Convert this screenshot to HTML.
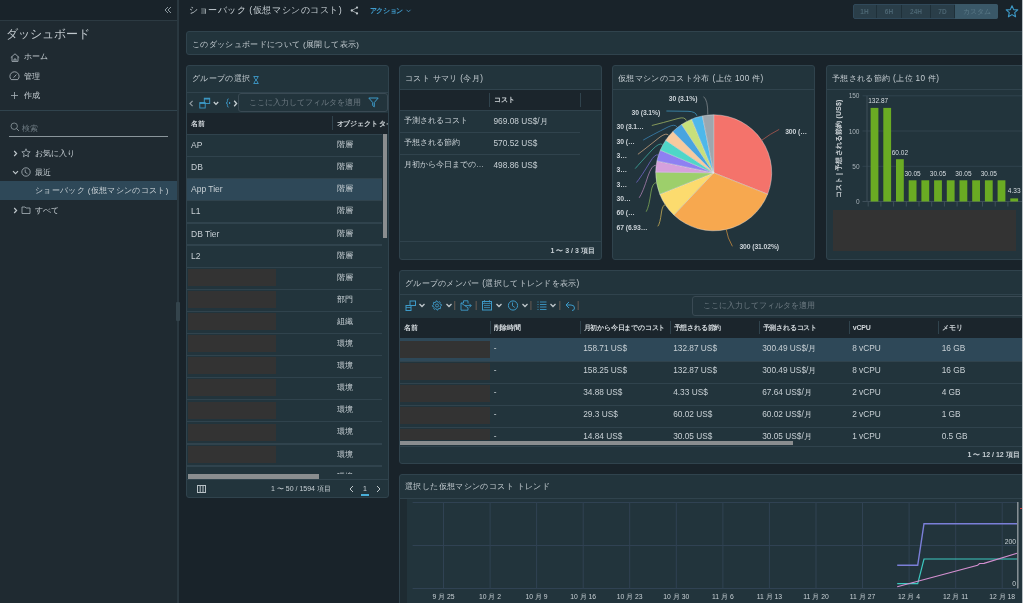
<!DOCTYPE html>
<html><head><meta charset="utf-8">
<style>
*{box-sizing:border-box;margin:0;padding:0}
html,body{width:1023px;height:603px;overflow:hidden;background:#19232a;font-family:"Liberation Sans",sans-serif;color:#c8d0d5}
.a{position:absolute}
.t{position:absolute;white-space:nowrap;line-height:1}
svg{position:absolute;overflow:visible}
#side{left:0;top:0;width:178px;height:603px;background:#1f2a31}
#sidetop{left:0;top:0;width:177px;height:21px;background:#19232a;border-bottom:1px solid #2c3a42}
#sideline{left:177px;top:0;width:2px;height:603px;background:#2a3840}
.panel{position:absolute;background:#22343c;border:1px solid #30434d;border-radius:3px;overflow:hidden}
.ph{position:absolute;left:0;top:0;right:0;height:24px;border-bottom:1px solid #30434d}
.ptitle{position:absolute;left:5px;top:9px;font-size:8.5px;color:#c4ccd1;white-space:nowrap;line-height:1}
.red{position:absolute;background:#333333}
.th{position:absolute;background:#1b252c}
.hd{position:absolute;font-size:7px;font-weight:bold;letter-spacing:-0.2px;color:#d0d6da;white-space:nowrap;line-height:1}
.cd{position:absolute;width:1px;background:#30434d}
.rb{position:absolute;height:1px;background:#30434d}
.c{position:absolute;font-size:8px;color:#c8d0d5;white-space:nowrap;line-height:1}
.sep{position:absolute;width:1px;height:10px;background:#5a5856}
</style></head><body><div id="root" style="position:absolute;left:0;top:0;width:1023px;height:603px;overflow:hidden;will-change:transform">
<div id="side" class="a"></div>
<div id="sidetop" class="a"></div>
<div id="sideline" class="a"></div>
<div class="a" style="left:176px;top:302px;width:4px;height:19px;background:#34444c;border-radius:1px"></div>

<!-- sidebar -->
<svg style="left:164px;top:6px" width="8" height="8" viewBox="0 0 8 8"><path d="M4 1 L1 4 L4 7 M7 1 L4 4 L7 7" fill="none" stroke="#9aa6ad" stroke-width="0.9"/></svg>
<div class="t" style="left:5.5px;top:28px;font-size:12px;color:#c0c8cd">ダッシュボード</div>
<svg style="left:9.5px;top:52.5px" width="10" height="9" viewBox="0 0 10 9"><path d="M0.8 4.6 L5 0.8 L9.2 4.6 M2 3.6 V8.4 H8 V3.6 M4 8.4 V6 H6 V8.4" fill="none" stroke="#aab4ba" stroke-width="0.85" stroke-linejoin="round"/></svg>
<div class="t" style="left:24px;top:53px;font-size:8px">ホーム</div>
<svg style="left:9px;top:71px" width="11" height="10" viewBox="0 0 11 10"><path d="M2.2 8.6 A4.6 4.6 0 1 1 8.8 8.6 Z M4.6 6.6 L7.4 3.6" fill="none" stroke="#aab4ba" stroke-width="0.85" stroke-linejoin="round"/></svg>
<div class="t" style="left:24px;top:72.5px;font-size:8px">管理</div>
<svg style="left:10px;top:90.5px" width="9" height="9" viewBox="0 0 9 9"><path d="M4.5 1 V8 M1 4.5 H8" fill="none" stroke="#aab4ba" stroke-width="0.8"/></svg>
<div class="t" style="left:24px;top:91.5px;font-size:8px">作成</div>
<div class="a" style="left:0;top:110px;width:177px;height:1px;background:#30434d"></div>
<svg style="left:10px;top:122px" width="10" height="10" viewBox="0 0 10 10"><circle cx="4.2" cy="4.2" r="3.2" fill="none" stroke="#8d989e" stroke-width="0.8"/><path d="M6.5 6.5 L9 9" stroke="#8d989e" stroke-width="0.9"/></svg>
<div class="t" style="left:22px;top:124.5px;font-size:8px;color:#6f7c84">検索</div>
<div class="a" style="left:9px;top:136px;width:159px;height:1px;background:#8a959b"></div>
<svg style="left:12.5px;top:150px" width="5" height="7" viewBox="0 0 5 7"><path d="M1.2 1 L3.6 3.5 L1.2 6" fill="none" stroke="#c0c8cc" stroke-width="1.15"/></svg>
<svg style="left:21px;top:148px" width="10" height="10" viewBox="0 0 10 10"><path d="M5 0.8 L6.2 3.6 L9.2 3.8 L6.9 5.8 L7.6 8.8 L5 7.2 L2.4 8.8 L3.1 5.8 L0.8 3.8 L3.8 3.6 Z" fill="none" stroke="#aab4ba" stroke-width="0.8"/></svg>
<div class="t" style="left:35px;top:149.5px;font-size:8px">お気に入り</div>
<svg style="left:11.5px;top:170px" width="7" height="5" viewBox="0 0 7 5"><path d="M1 1.2 L3.5 3.6 L6 1.2" fill="none" stroke="#c0c8cc" stroke-width="1.15"/></svg>
<svg style="left:21px;top:167px" width="10" height="10" viewBox="0 0 10 10"><circle cx="5" cy="5" r="4.2" fill="none" stroke="#aab4ba" stroke-width="0.8"/><path d="M4.2 2.5 V5.3 L6.5 6.8" fill="none" stroke="#aab4ba" stroke-width="0.8"/></svg>
<div class="t" style="left:35px;top:168.5px;font-size:8px">最近</div>
<div class="a" style="left:0;top:181px;width:177px;height:19px;background:#2e4858"></div>
<div class="t" style="left:35px;top:187px;font-size:8px;letter-spacing:0.35px;color:#c8d0d5">ショーバック (仮想マシンのコスト)</div>
<svg style="left:12.5px;top:207px" width="5" height="7" viewBox="0 0 5 7"><path d="M1.2 1 L3.6 3.5 L1.2 6" fill="none" stroke="#c0c8cc" stroke-width="1.15"/></svg>
<svg style="left:21px;top:205px" width="10" height="10" viewBox="0 0 10 10"><path d="M1 2 H4 L5 3 H9 V8.5 H1 Z" fill="none" stroke="#aab4ba" stroke-width="0.8"/></svg>
<div class="t" style="left:35px;top:207px;font-size:8px">すべて</div>

<!-- main header -->
<div class="t" style="left:189px;top:5.5px;font-size:9px;letter-spacing:0.55px;color:#c8d0d5">ショーバック (仮想マシンのコスト)</div>
<svg style="left:350px;top:6px" width="9" height="9" viewBox="0 0 9 9"><circle cx="7" cy="1.6" r="1.15" fill="#c0c8cc"/><circle cx="1.8" cy="4.5" r="1.15" fill="#c0c8cc"/><circle cx="7" cy="7.4" r="1.15" fill="#c0c8cc"/><path d="M7 1.6 L1.8 4.5 L7 7.4" fill="none" stroke="#c0c8cc" stroke-width="0.7"/></svg>
<div class="t" style="left:369.5px;top:7px;font-size:7px;letter-spacing:-0.3px;font-weight:bold;color:#3f9bcb">アクション</div>
<svg style="left:406px;top:8.5px" width="5" height="4" viewBox="0 0 5 4"><path d="M0.5 0.8 L2.5 2.8 L4.5 0.8" fill="none" stroke="#4a9fd0" stroke-width="0.8"/></svg>

<div class="a" style="left:853px;top:4px;width:145px;height:15px;background:#2a3e49;border:1px solid #30495a;border-radius:2px"></div>
<div class="a" style="left:955px;top:4px;width:43px;height:15px;background:#3a5868;border-radius:0 2px 2px 0"></div>
<div class="a" style="left:876px;top:5px;width:1px;height:13px;background:#1f3039"></div>
<div class="a" style="left:901px;top:5px;width:1px;height:13px;background:#1f3039"></div>
<div class="a" style="left:930px;top:5px;width:1px;height:13px;background:#1f3039"></div>
<div class="a" style="left:954px;top:5px;width:1px;height:13px;background:#1f3039"></div>
<div class="t" style="left:853px;width:23px;text-align:center;top:8.5px;font-size:6.5px;font-weight:bold;color:#4b6572">1H</div>
<div class="t" style="left:877px;width:24px;text-align:center;top:8.5px;font-size:6.5px;font-weight:bold;color:#4b6572">6H</div>
<div class="t" style="left:902px;width:28px;text-align:center;top:8.5px;font-size:6.5px;font-weight:bold;color:#4b6572">24H</div>
<div class="t" style="left:931px;width:23px;text-align:center;top:8.5px;font-size:6.5px;font-weight:bold;color:#4b6572">7D</div>
<div class="t" style="left:955px;width:43px;text-align:center;top:8px;font-size:7px;color:#5b7a88">カスタム</div>
<svg style="left:1005px;top:5px" width="14" height="13" viewBox="0 0 14 13"><path d="M7 0.8 L8.7 4.6 L12.8 4.9 L9.7 7.6 L10.6 11.8 L7 9.6 L3.4 11.8 L4.3 7.6 L1.2 4.9 L5.3 4.6 Z" fill="none" stroke="#3d9ac8" stroke-width="1.1" stroke-linejoin="round"/></svg>

<div class="panel" style="left:186px;top:31px;width:860px;height:24px"><div class="ptitle" style="top:8.5px;font-size:8px;letter-spacing:0.35px">このダッシュボードについて (展開して表示)</div></div>
<div class="panel" style="left:186px;top:65px;width:203px;height:433px"></div>
<div class="rb" style="left:187px;top:92px;width:201px"></div>
<div class="t" style="left:192px;top:75.1px;font-size:8.2px;letter-spacing:0.35px;color:#c4ccd1">グループの選択</div>
<svg style="left:253px;top:76px" width="6" height="8" viewBox="0 0 6 8"><path d="M0.5 0.5 H5.5 M0.5 7.5 H5.5 M1 0.5 C1 3 5 5 5 7.5 M5 0.5 C5 3 1 5 1 7.5" fill="none" stroke="#3d9ac8" stroke-width="0.9"/></svg>
<svg style="left:188.5px;top:99.5px" width="5" height="7" viewBox="0 0 5 7"><path d="M3.6 0.8 L1 3.5 L3.6 6.2" fill="none" stroke="#8d989e" stroke-width="1.2"/></svg>
<svg style="left:199px;top:97px" width="12" height="12" viewBox="0 0 12 12"><rect x="5.3" y="1.2" width="5.4" height="5.3" fill="none" stroke="#3d9ac8" stroke-width="0.9"/><path d="M5.3 1.8 H10.7" stroke="#3d9ac8" stroke-width="1.4"/><rect x="0.8" y="5.6" width="5.4" height="5.4" fill="none" stroke="#3d9ac8" stroke-width="0.9"/><path d="M0.8 6.2 H6.2" stroke="#3d9ac8" stroke-width="1.4"/></svg>
<svg style="left:212.5px;top:101px" width="6" height="5" viewBox="0 0 6 5"><path d="M0.8 1 L3 3.4 L5.2 1" fill="none" stroke="#c8d0d4" stroke-width="1.3"/></svg>
<svg style="left:225px;top:98px" width="7" height="10" viewBox="0 0 7 10"><path d="M3.6 0.9 C2.2 0.9 2.4 2 2.4 3.4 C2.4 4.4 2 4.9 1.1 5 C2 5.1 2.4 5.6 2.4 6.6 C2.4 8 2.2 9.1 3.6 9.1" fill="none" stroke="#3d9ac8" stroke-width="0.95"/><path d="M4.6 4 V6" stroke="#3d9ac8" stroke-width="1.1"/></svg>
<svg style="left:233px;top:99.5px" width="5" height="7" viewBox="0 0 5 7"><path d="M1.2 0.8 L3.6 3.5 L1.2 6.2" fill="none" stroke="#c8d0d4" stroke-width="1.3"/></svg>
<div class="a" style="left:238px;top:93px;width:150px;height:19px;border:1px solid #3a4a54;border-radius:3px;background:#22343c"></div>
<div class="t" style="left:249px;top:98.5px;font-size:8px;color:#6d7a82">ここに入力してフィルタを適用</div>
<svg style="left:368px;top:97px" width="11" height="11" viewBox="0 0 11 11"><path d="M0.8 1 H10.2 L6.3 5.5 V9.8 L4.7 8.6 V5.5 Z" fill="none" stroke="#3d9ac8" stroke-width="1" stroke-linejoin="round"/></svg>
<div class="a" style="left:187px;top:113px;width:201px;height:20.5px;overflow:hidden;background:#1b252c">
<div class="hd" style="left:4px;top:6.5px">名前</div>
<div class="cd" style="left:145px;top:3px;height:14px"></div>
<div class="hd" style="left:149.5px;top:6.5px">オブジェクト タイプ</div></div>
<div class="a" style="left:187px;top:133px;width:201px;height:341.3px;overflow:hidden">
<div class="rb" style="left:0;top:0.9px;width:195px;height:1.3px"></div>
<div class="c" style="left:4px;top:8.1px;font-size:8.5px">AP</div>
<div class="c" style="left:149.5px;top:8.1px;font-size:8px">階層</div>
<div class="rb" style="left:0;top:23.0px;width:195px;height:1.3px"></div>
<div class="c" style="left:4px;top:30.2px;font-size:8.5px">DB</div>
<div class="c" style="left:149.5px;top:30.2px;font-size:8px">階層</div>
<div class="a" style="left:0;top:46.1px;width:195px;height:21.1px;background:#2e4858"></div>
<div class="rb" style="left:0;top:45.1px;width:195px;height:1.3px"></div>
<div class="c" style="left:4px;top:52.3px;font-size:8.5px">App Tier</div>
<div class="c" style="left:149.5px;top:52.3px;font-size:8px">階層</div>
<div class="rb" style="left:0;top:67.2px;width:195px;height:1.3px"></div>
<div class="c" style="left:4px;top:74.4px;font-size:8.5px">L1</div>
<div class="c" style="left:149.5px;top:74.4px;font-size:8px">階層</div>
<div class="rb" style="left:0;top:89.3px;width:195px;height:1.3px"></div>
<div class="c" style="left:4px;top:96.5px;font-size:8.5px">DB Tier</div>
<div class="c" style="left:149.5px;top:96.5px;font-size:8px">階層</div>
<div class="rb" style="left:0;top:111.4px;width:195px;height:1.3px"></div>
<div class="c" style="left:4px;top:118.6px;font-size:8.5px">L2</div>
<div class="c" style="left:149.5px;top:118.6px;font-size:8px">階層</div>
<div class="rb" style="left:0;top:133.5px;width:195px;height:1.3px"></div>
<div class="red" style="left:1px;top:135.9px;width:88px;height:17.1px"></div>
<div class="c" style="left:149.5px;top:140.7px;font-size:8px">階層</div>
<div class="rb" style="left:0;top:155.6px;width:195px;height:1.3px"></div>
<div class="red" style="left:1px;top:158.0px;width:88px;height:17.1px"></div>
<div class="c" style="left:149.5px;top:162.8px;font-size:8px">部門</div>
<div class="rb" style="left:0;top:177.7px;width:195px;height:1.3px"></div>
<div class="red" style="left:1px;top:180.1px;width:88px;height:17.1px"></div>
<div class="c" style="left:149.5px;top:184.9px;font-size:8px">組織</div>
<div class="rb" style="left:0;top:199.8px;width:195px;height:1.3px"></div>
<div class="red" style="left:1px;top:202.2px;width:88px;height:17.1px"></div>
<div class="c" style="left:149.5px;top:207.0px;font-size:8px">環境</div>
<div class="rb" style="left:0;top:221.9px;width:195px;height:1.3px"></div>
<div class="red" style="left:1px;top:224.3px;width:88px;height:17.1px"></div>
<div class="c" style="left:149.5px;top:229.1px;font-size:8px">環境</div>
<div class="rb" style="left:0;top:244.0px;width:195px;height:1.3px"></div>
<div class="red" style="left:1px;top:246.4px;width:88px;height:17.1px"></div>
<div class="c" style="left:149.5px;top:251.2px;font-size:8px">環境</div>
<div class="rb" style="left:0;top:266.1px;width:195px;height:1.3px"></div>
<div class="red" style="left:1px;top:268.5px;width:88px;height:17.1px"></div>
<div class="c" style="left:149.5px;top:273.3px;font-size:8px">環境</div>
<div class="rb" style="left:0;top:288.2px;width:195px;height:1.3px"></div>
<div class="red" style="left:1px;top:290.6px;width:88px;height:17.1px"></div>
<div class="c" style="left:149.5px;top:295.4px;font-size:8px">環境</div>
<div class="rb" style="left:0;top:310.3px;width:195px;height:1.3px"></div>
<div class="red" style="left:1px;top:312.7px;width:88px;height:17.1px"></div>
<div class="c" style="left:149.5px;top:317.5px;font-size:8px">環境</div>
<div class="rb" style="left:0;top:332.4px;width:195px;height:1.3px"></div>
<div class="c" style="left:149.5px;top:339.6px;font-size:8px">環境</div>
<div class="a" style="left:196px;top:1px;width:4px;height:104px;background:#8a8d8f"></div>
</div>
<div class="a" style="left:187.5px;top:474.3px;width:131px;height:4.7px;background:#8a8d8f"></div>
<div class="rb" style="left:187px;top:479px;width:201px"></div>
<svg style="left:197px;top:485px" width="9" height="8" viewBox="0 0 9 8"><rect x="0.5" y="0.5" width="8" height="7" fill="none" stroke="#b8c0c5" stroke-width="1"/><path d="M3.2 0.5 V7.5 M6 0.5 V7.5" stroke="#b8c0c5" stroke-width="1"/></svg>
<div class="t" style="left:271px;top:485px;font-size:7px;color:#c8d0d5">1 〜 50 / 1594 項目</div>
<svg style="left:349px;top:485px" width="5" height="8" viewBox="0 0 5 8"><path d="M4 1 L1 4 L4 7" fill="none" stroke="#c0c8cc" stroke-width="1"/></svg>
<div class="t" style="left:363px;top:485px;font-size:7px;color:#c8d0d5">1</div>
<div class="a" style="left:361px;top:494px;width:8px;height:2px;background:#49afd9"></div>
<svg style="left:376px;top:485px" width="5" height="8" viewBox="0 0 5 8"><path d="M1 1 L4 4 L1 7" fill="none" stroke="#c0c8cc" stroke-width="1"/></svg>
<div class="panel" style="left:399px;top:65px;width:203px;height:195px"></div>
<div class="rb" style="left:400px;top:89px;width:201px"></div>
<div class="t" style="left:405px;top:75.1px;font-size:8.2px;letter-spacing:0.35px;color:#c4ccd1">コスト サマリ (今月)</div>
<div class="th" style="left:400px;top:90px;width:180px;height:20px"></div>
<div class="th" style="left:580px;top:90px;width:21px;height:20px"></div>
<div class="cd" style="left:489px;top:93px;height:14px"></div>
<div class="cd" style="left:579.5px;top:93px;height:14px"></div>
<div class="hd" style="left:494px;top:95.8px">コスト</div>
<div class="rb" style="left:400px;top:110px;width:201px"></div>
<div class="c" style="left:404px;top:116.5px;font-size:8px">予測されるコスト</div>
<div class="c" style="left:493.5px;top:116.5px;font-size:8.3px">969.08 US$/月</div>
<div class="rb" style="left:400px;top:132.2px;width:180px"></div>
<div class="c" style="left:404px;top:138.7px;font-size:8px">予想される節約</div>
<div class="c" style="left:493.5px;top:138.7px;font-size:8.3px">570.52 US$</div>
<div class="rb" style="left:400px;top:154.4px;width:180px"></div>
<div class="c" style="left:404px;top:160.9px;font-size:8px">月初から今日までの…</div>
<div class="c" style="left:493.5px;top:160.9px;font-size:8.3px">498.86 US$</div>
<div class="rb" style="left:400px;top:240.5px;width:201px"></div>
<div class="t" style="left:550.5px;top:247px;font-size:7px;font-weight:bold;color:#c8d0d5">1 〜 3 / 3 項目</div>
<div class="panel" style="left:612px;top:65px;width:203px;height:195px"></div>
<div class="rb" style="left:613px;top:89px;width:201px"></div>
<div class="t" style="left:618px;top:75.1px;font-size:8.2px;letter-spacing:0.35px;color:#c4ccd1">仮想マシンのコスト分布 (上位 100 件)</div>
<svg style="left:0;top:0" width="1023" height="603" viewBox="0 0 1023 603">
<path d="M713.7,172.8 L713.70,114.80 A58,58 0 0 1 767.60,194.23 Z" fill="#f4736b" stroke="#e8ecee" stroke-width="0.5" stroke-opacity="0.8"/>
<path d="M713.7,172.8 L767.60,194.23 A58,58 0 0 1 673.87,214.96 Z" fill="#f7a84f" stroke="#e8ecee" stroke-width="0.5" stroke-opacity="0.8"/>
<path d="M713.7,172.8 L673.87,214.96 A58,58 0 0 1 659.80,194.23 Z" fill="#fcdb6e" stroke="#e8ecee" stroke-width="0.5" stroke-opacity="0.8"/>
<path d="M713.7,172.8 L659.80,194.23 A58,58 0 0 1 655.70,172.14 Z" fill="#9dcf6b" stroke="#e8ecee" stroke-width="0.5" stroke-opacity="0.8"/>
<path d="M713.7,172.8 L655.70,172.14 A58,58 0 0 1 656.93,160.92 Z" fill="#d6a0dc" stroke="#e8ecee" stroke-width="0.5" stroke-opacity="0.8"/>
<path d="M713.7,172.8 L656.93,160.92 A58,58 0 0 1 660.31,150.15 Z" fill="#8e80f2" stroke="#e8ecee" stroke-width="0.5" stroke-opacity="0.8"/>
<path d="M713.7,172.8 L660.31,150.15 A58,58 0 0 1 665.70,140.24 Z" fill="#4fd6c8" stroke="#e8ecee" stroke-width="0.5" stroke-opacity="0.8"/>
<path d="M713.7,172.8 L665.70,140.24 A58,58 0 0 1 672.92,131.56 Z" fill="#f8ca9e" stroke="#e8ecee" stroke-width="0.5" stroke-opacity="0.8"/>
<path d="M713.7,172.8 L672.92,131.56 A58,58 0 0 1 681.68,124.44 Z" fill="#48a4e0" stroke="#e8ecee" stroke-width="0.5" stroke-opacity="0.8"/>
<path d="M713.7,172.8 L681.68,124.44 A58,58 0 0 1 691.66,119.15 Z" fill="#c7e07b" stroke="#e8ecee" stroke-width="0.5" stroke-opacity="0.8"/>
<path d="M713.7,172.8 L691.66,119.15 A58,58 0 0 1 702.47,115.90 Z" fill="#4eb8ea" stroke="#e8ecee" stroke-width="0.5" stroke-opacity="0.8"/>
<path d="M713.7,172.8 L702.47,115.90 A58,58 0 0 1 713.70,114.80 Z" fill="#9ea7ae" stroke="#e8ecee" stroke-width="0.5" stroke-opacity="0.8"/>
<path d="M761.7,140.3 Q770,134 779.2,129.4" fill="none" stroke="#b0584f" stroke-width="0.8"/>
<path d="M726.2,229.4 Q727.5,238 732.4,246.3" fill="none" stroke="#c48a3f" stroke-width="0.8"/>
<path d="M665.7,204.4 Q662.5,205 661.5,212 Q660,224 657.8,226.3" fill="none" stroke="#c9ae55" stroke-width="0.8"/>
<path d="M656.4,182.5 Q652.4,183 651,192 Q649,207 646.2,211.7" fill="none" stroke="#7ea956" stroke-width="0.8"/>
<path d="M655.8,165.3 Q651.8,165 648,176 Q643,192 639.2,197.8" fill="none" stroke="#a97fb0" stroke-width="0.8"/>
<path d="M658.1,155 Q655.1,153.7 650,162 Q641,177 636.5,182.5" fill="none" stroke="#7166c4" stroke-width="0.8"/>
<path d="M662.4,144.4 Q659.1,142.5 652,150 Q640,163 635.2,168.6" fill="none" stroke="#3fab9f" stroke-width="0.8"/>
<path d="M668.4,135.1 Q666.4,132.5 660,137 Q645,149 637.9,154.3" fill="none" stroke="#c6a17e" stroke-width="0.8"/>
<path d="M677,127.1 Q675,123.5 668,127 Q652,135 643.2,140.1" fill="none" stroke="#3a83b3" stroke-width="0.8"/>
<path d="M686.3,120.5 Q685,116.5 678,118.5 Q662,123 651.8,125.5" fill="none" stroke="#9fb362" stroke-width="0.8"/>
<path d="M696.9,115.9 Q696,111.5 688,111.3 L666.4,111" fill="none" stroke="#3e93bb" stroke-width="0.8"/>
<path d="M707.8,114.5 Q708,100 703.5,96.6" fill="none" stroke="#7f868b" stroke-width="0.8"/>
</svg>
<div class="t" style="left:668.8px;top:95.6px;font-size:6.8px;color:#ccd3d8;font-weight:bold;letter-spacing:-0.1px">30 (3.1%)</div>
<div class="t" style="left:631.6px;top:109.8px;font-size:6.8px;color:#ccd3d8;font-weight:bold;letter-spacing:-0.1px">30 (3.1%)</div>
<div class="t" style="left:616.6px;top:124.4px;font-size:6.8px;color:#ccd3d8;font-weight:bold;letter-spacing:-0.1px">30 (3.1…</div>
<div class="t" style="left:616.6px;top:138.5px;font-size:6.8px;color:#ccd3d8;font-weight:bold;letter-spacing:-0.1px">30 (…</div>
<div class="t" style="left:616.6px;top:152.6px;font-size:6.8px;color:#ccd3d8;font-weight:bold;letter-spacing:-0.1px">3…</div>
<div class="t" style="left:616.6px;top:167.3px;font-size:6.8px;color:#ccd3d8;font-weight:bold;letter-spacing:-0.1px">3…</div>
<div class="t" style="left:616.6px;top:181.5px;font-size:6.8px;color:#ccd3d8;font-weight:bold;letter-spacing:-0.1px">3…</div>
<div class="t" style="left:616.6px;top:195.7px;font-size:6.8px;color:#ccd3d8;font-weight:bold;letter-spacing:-0.1px">30…</div>
<div class="t" style="left:616.6px;top:210.3px;font-size:6.8px;color:#ccd3d8;font-weight:bold;letter-spacing:-0.1px">60 (…</div>
<div class="t" style="left:616.6px;top:225.3px;font-size:6.8px;color:#ccd3d8;font-weight:bold;letter-spacing:-0.1px">67 (6.93…</div>
<div class="t" style="left:785.2px;top:128.9px;font-size:6.8px;color:#ccd3d8;font-weight:bold;letter-spacing:-0.1px">300 (…</div>
<div class="t" style="left:739.4px;top:244.3px;font-size:6.8px;color:#ccd3d8;font-weight:bold;letter-spacing:-0.1px">300 (31.02%)</div>
<div class="panel" style="left:826px;top:65px;width:220px;height:195px"></div>
<div class="rb" style="left:827px;top:89px;width:200px"></div>
<div class="t" style="left:832px;top:75.1px;font-size:8.2px;letter-spacing:0.35px;color:#c4ccd1">予想される節約 (上位 10 件)</div>
<svg style="left:0;top:0" width="1023" height="603" viewBox="0 0 1023 603">
<path d="M862.5,166.3 H1022" stroke="#30434d" stroke-width="1"/>
<path d="M862.5,131.0 H1022" stroke="#30434d" stroke-width="1"/>
<path d="M862.5,95.8 H1022" stroke="#30434d" stroke-width="1"/>
<path d="M862.5,201.5 H1022" stroke="#3e4f59" stroke-width="1"/>
<path d="M867,95.8 V201.5" stroke="#3e4f59" stroke-width="1"/>
<rect x="870.6" y="107.9" width="7.8" height="93.6" fill="#6aab23"/>
<path d="M868.2,201.5 V206.5" stroke="#3e4f59" stroke-width="1"/>
<rect x="883.3" y="107.9" width="7.8" height="93.6" fill="#6aab23"/>
<path d="M880.9,201.5 V206.5" stroke="#3e4f59" stroke-width="1"/>
<rect x="896.0" y="159.2" width="7.8" height="42.3" fill="#6aab23"/>
<path d="M893.6,201.5 V206.5" stroke="#3e4f59" stroke-width="1"/>
<rect x="908.7" y="180.3" width="7.8" height="21.2" fill="#6aab23"/>
<path d="M906.3,201.5 V206.5" stroke="#3e4f59" stroke-width="1"/>
<rect x="921.4" y="180.3" width="7.8" height="21.2" fill="#6aab23"/>
<path d="M919.0,201.5 V206.5" stroke="#3e4f59" stroke-width="1"/>
<rect x="934.1" y="180.3" width="7.8" height="21.2" fill="#6aab23"/>
<path d="M931.7,201.5 V206.5" stroke="#3e4f59" stroke-width="1"/>
<rect x="946.8" y="180.3" width="7.8" height="21.2" fill="#6aab23"/>
<path d="M944.4,201.5 V206.5" stroke="#3e4f59" stroke-width="1"/>
<rect x="959.5" y="180.3" width="7.8" height="21.2" fill="#6aab23"/>
<path d="M957.1,201.5 V206.5" stroke="#3e4f59" stroke-width="1"/>
<rect x="972.2" y="180.3" width="7.8" height="21.2" fill="#6aab23"/>
<path d="M969.8,201.5 V206.5" stroke="#3e4f59" stroke-width="1"/>
<rect x="984.9" y="180.3" width="7.8" height="21.2" fill="#6aab23"/>
<path d="M982.5,201.5 V206.5" stroke="#3e4f59" stroke-width="1"/>
<rect x="997.6" y="180.3" width="7.8" height="21.2" fill="#6aab23"/>
<path d="M995.2,201.5 V206.5" stroke="#3e4f59" stroke-width="1"/>
<rect x="1010.3" y="198.4" width="7.8" height="3.1" fill="#6aab23"/>
<path d="M1007.9,201.5 V206.5" stroke="#3e4f59" stroke-width="1"/>
</svg>
<div class="t" style="left:829px;width:30.5px;text-align:right;top:93.3px;font-size:6.5px;color:#a9b3b9">150</div>
<div class="t" style="left:829px;width:30.5px;text-align:right;top:128.8px;font-size:6.5px;color:#a9b3b9">100</div>
<div class="t" style="left:829px;width:30.5px;text-align:right;top:164.0px;font-size:6.5px;color:#a9b3b9">50</div>
<div class="t" style="left:829px;width:30.5px;text-align:right;top:198.9px;font-size:6.5px;color:#a9b3b9">0</div>
<div class="t" style="left:858.2px;width:40px;text-align:center;top:97.9px;font-size:6.5px;color:#d8dee2">132.87</div>
<div class="t" style="left:879.9px;width:40px;text-align:center;top:149.6px;font-size:6.5px;color:#d8dee2">60.02</div>
<div class="t" style="left:892.6px;width:40px;text-align:center;top:170.9px;font-size:6.5px;color:#d8dee2">30.05</div>
<div class="t" style="left:918.0px;width:40px;text-align:center;top:170.9px;font-size:6.5px;color:#d8dee2">30.05</div>
<div class="t" style="left:943.4px;width:40px;text-align:center;top:170.9px;font-size:6.5px;color:#d8dee2">30.05</div>
<div class="t" style="left:968.8px;width:40px;text-align:center;top:170.9px;font-size:6.5px;color:#d8dee2">30.05</div>
<div class="t" style="left:994.2px;width:40px;text-align:center;top:188.3px;font-size:6.5px;color:#d8dee2">4.33</div>
<div class="t" style="left:838.3px;top:148.5px;font-size:7px;font-weight:bold;color:#d0d6da;letter-spacing:0.15px;transform:translate(-50%,-50%) rotate(-90deg);transform-origin:50% 50%">コスト | 予想される節約 (US$)</div>
<div class="red" style="left:832.5px;top:209.6px;width:183.5px;height:41.4px"></div>
<div class="panel" style="left:399px;top:270px;width:650px;height:194px"></div>
<div class="rb" style="left:400px;top:294px;width:622px"></div>
<div class="t" style="left:405px;top:279.6px;font-size:8.2px;letter-spacing:0.3px;color:#c4ccd1">グループのメンバー (選択してトレンドを表示)</div>
<svg style="left:0;top:0" width="1023" height="603" viewBox="0 0 1023 603">
<rect x="410" y="301" width="5.5" height="4.5" fill="none" stroke="#3d9ac8" stroke-width="1"/><rect x="406" y="305.5" width="5" height="5" fill="none" stroke="#3d9ac8" stroke-width="1"/><path d="M406,307.5 H411" stroke="#3d9ac8" stroke-width="0.8"/>
<path d="M419.5,304.0 L422.0,306.5 L424.5,304.0" fill="none" stroke="#c0c8cc" stroke-width="1.3"/>
<path d="M441.51,304.59 L441.60,305.48 L440.34,306.15 L440.15,306.79 L440.83,308.04 L440.26,308.74 L438.90,308.32 L438.31,308.64 L437.91,310.01 L437.02,310.10 L436.35,308.84 L435.71,308.65 L434.46,309.33 L433.76,308.76 L434.18,307.40 L433.86,306.81 L432.49,306.41 L432.40,305.52 L433.66,304.85 L433.85,304.21 L433.17,302.96 L433.74,302.26 L435.10,302.68 L435.69,302.36 L436.09,300.99 L436.98,300.90 L437.65,302.16 L438.29,302.35 L439.54,301.67 L440.24,302.24 L439.82,303.60 L440.14,304.19 Z" fill="none" stroke="#3d9ac8" stroke-width="0.9" stroke-linejoin="round"/><circle cx="437" cy="305.5" r="1.5" fill="none" stroke="#3d9ac8" stroke-width="0.9"/>
<path d="M446.5,304.0 L449.0,306.5 L451.5,304.0" fill="none" stroke="#c0c8cc" stroke-width="1.3"/>
<path d="M454.7,301 V310" stroke="#5d554f" stroke-width="1.2"/>
<path d="M463.5,300.8 H468 V303.5 M468,307.8 V310.2 H461 V303 Z M461,303 H463.5 V300.8 M465,305.6 H471.2 M469.4,303.8 L471.2,305.6 L469.4,307.4" fill="none" stroke="#3d9ac8" stroke-width="0.9" stroke-linejoin="round"/>
<path d="M476.2,301 V310" stroke="#5d554f" stroke-width="1.2"/>
<rect x="482.5" y="301.5" width="9" height="8.5" fill="none" stroke="#3d9ac8" stroke-width="1"/><path d="M482.5,303.5 H491.5 M484.5,300 V302.5 M489.5,300 V302.5 M484,305.5 H490 M484,307.5 H490" stroke="#3d9ac8" stroke-width="0.7"/>
<path d="M496.5,304.0 L499.0,306.5 L501.5,304.0" fill="none" stroke="#c0c8cc" stroke-width="1.3"/>
<circle cx="513" cy="305.5" r="4.6" fill="none" stroke="#3d9ac8" stroke-width="1"/><path d="M512.5,302.5 V305.8 L514.8,307.5" fill="none" stroke="#3d9ac8" stroke-width="0.9"/>
<path d="M522.5,304.0 L525.0,306.5 L527.5,304.0" fill="none" stroke="#c0c8cc" stroke-width="1.3"/>
<path d="M530.9,301 V310" stroke="#5d554f" stroke-width="1.2"/>
<path d="M537.5,302 H538.5 M537.5,304.5 H538.5 M537.5,307 H538.5 M537.5,309.5 H538.5 M540,302 H546.5 M540,304.5 H546.5 M540,307 H546.5 M540,309.5 H546.5" stroke="#3d9ac8" stroke-width="0.9"/>
<path d="M550.5,304.0 L553.0,306.5 L555.5,304.0" fill="none" stroke="#c0c8cc" stroke-width="1.3"/>
<path d="M559.8,301 V310" stroke="#5d554f" stroke-width="1.2"/>
<path d="M569,302 L566,305 L569,308 M566,305 H571 Q574.5,305 574.5,308 Q574.5,310.5 572,310.5" fill="none" stroke="#3d9ac8" stroke-width="1"/>
<path d="M578.2,301 V310" stroke="#5d554f" stroke-width="1.2"/>
</svg>
<div class="a" style="left:692px;top:296px;width:340px;height:19.5px;border:1px solid #3a4a54;border-radius:3px;background:#22343c"></div>
<div class="t" style="left:702.5px;top:302px;font-size:8px;color:#6d7a82">ここに入力してフィルタを適用</div>
<div class="th" style="left:400px;top:318px;width:622px;height:19.5px"></div>
<div class="hd" style="left:404.2px;top:324px">名前</div>
<div class="cd" style="left:489.5px;top:321px;height:13px"></div>
<div class="hd" style="left:493.7px;top:324px">削除時間</div>
<div class="cd" style="left:579.5px;top:321px;height:13px"></div>
<div class="hd" style="left:583.7px;top:324px">月初から今日までのコスト</div>
<div class="cd" style="left:669.5px;top:321px;height:13px"></div>
<div class="hd" style="left:673.7px;top:324px">予想される節約</div>
<div class="cd" style="left:758.5px;top:321px;height:13px"></div>
<div class="hd" style="left:762.7px;top:324px">予測されるコスト</div>
<div class="cd" style="left:848.5px;top:321px;height:13px"></div>
<div class="hd" style="left:852.7px;top:324px">vCPU</div>
<div class="cd" style="left:938px;top:321px;height:13px"></div>
<div class="hd" style="left:942.2px;top:324px">メモリ</div>
<div class="a" style="left:400px;top:337.5px;width:622px;height:102.7px;overflow:hidden">
<div class="a" style="left:0;top:0.5px;width:622px;height:22.5px;background:#2e4858"></div>
<div class="red" style="left:0;top:3.0px;width:90.3px;height:17px"></div>
<div class="c" style="left:93.8px;top:6.5px;font-size:8.3px">-</div>
<div class="c" style="left:183.2px;top:6.5px;font-size:8.3px">158.71 US$</div>
<div class="c" style="left:273.2px;top:6.5px;font-size:8.3px">132.87 US$</div>
<div class="c" style="left:362.2px;top:6.5px;font-size:8.3px">300.49 US$/月</div>
<div class="c" style="left:452.2px;top:6.5px;font-size:8.3px">8 vCPU</div>
<div class="c" style="left:541.7px;top:6.5px;font-size:8.3px">16 GB</div>
<div class="rb" style="left:0;top:23.0px;width:622px"></div>
<div class="red" style="left:0;top:25.1px;width:90.3px;height:17px"></div>
<div class="c" style="left:93.8px;top:28.6px;font-size:8.3px">-</div>
<div class="c" style="left:183.2px;top:28.6px;font-size:8.3px">158.25 US$</div>
<div class="c" style="left:273.2px;top:28.6px;font-size:8.3px">132.87 US$</div>
<div class="c" style="left:362.2px;top:28.6px;font-size:8.3px">300.49 US$/月</div>
<div class="c" style="left:452.2px;top:28.6px;font-size:8.3px">8 vCPU</div>
<div class="c" style="left:541.7px;top:28.6px;font-size:8.3px">16 GB</div>
<div class="rb" style="left:0;top:45.1px;width:622px"></div>
<div class="red" style="left:0;top:47.2px;width:90.3px;height:17px"></div>
<div class="c" style="left:93.8px;top:50.7px;font-size:8.3px">-</div>
<div class="c" style="left:183.2px;top:50.7px;font-size:8.3px">34.88 US$</div>
<div class="c" style="left:273.2px;top:50.7px;font-size:8.3px">4.33 US$</div>
<div class="c" style="left:362.2px;top:50.7px;font-size:8.3px">67.64 US$/月</div>
<div class="c" style="left:452.2px;top:50.7px;font-size:8.3px">2 vCPU</div>
<div class="c" style="left:541.7px;top:50.7px;font-size:8.3px">4 GB</div>
<div class="rb" style="left:0;top:67.2px;width:622px"></div>
<div class="red" style="left:0;top:69.3px;width:90.3px;height:17px"></div>
<div class="c" style="left:93.8px;top:72.8px;font-size:8.3px">-</div>
<div class="c" style="left:183.2px;top:72.8px;font-size:8.3px">29.3 US$</div>
<div class="c" style="left:273.2px;top:72.8px;font-size:8.3px">60.02 US$</div>
<div class="c" style="left:362.2px;top:72.8px;font-size:8.3px">60.02 US$/月</div>
<div class="c" style="left:452.2px;top:72.8px;font-size:8.3px">2 vCPU</div>
<div class="c" style="left:541.7px;top:72.8px;font-size:8.3px">1 GB</div>
<div class="rb" style="left:0;top:89.3px;width:622px"></div>
<div class="red" style="left:0;top:91.4px;width:90.3px;height:17px"></div>
<div class="c" style="left:93.8px;top:94.9px;font-size:8.3px">-</div>
<div class="c" style="left:183.2px;top:94.9px;font-size:8.3px">14.84 US$</div>
<div class="c" style="left:273.2px;top:94.9px;font-size:8.3px">30.05 US$</div>
<div class="c" style="left:362.2px;top:94.9px;font-size:8.3px">30.05 US$/月</div>
<div class="c" style="left:452.2px;top:94.9px;font-size:8.3px">1 vCPU</div>
<div class="c" style="left:541.7px;top:94.9px;font-size:8.3px">0.5 GB</div>

</div>
<div class="a" style="left:400px;top:441.2px;width:392.5px;height:4.3px;background:#8a8d8f"></div>
<div class="rb" style="left:400px;top:446px;width:622px"></div>
<div class="t" style="right:3.3px;top:451px;font-size:7px;font-weight:bold;color:#c8d0d5">1 〜 12 / 12 項目</div>
<div class="panel" style="left:399px;top:474px;width:650px;height:160px"></div>
<div class="rb" style="left:400px;top:498px;width:622px"></div>
<div class="t" style="left:405px;top:483.3px;font-size:8.2px;letter-spacing:0.38px;color:#c4ccd1">選択した仮想マシンのコスト トレンド</div>
<div class="a" style="left:400px;top:499px;width:6.6px;height:104px;background:#1e2b32"></div>
<svg style="left:0;top:0" width="1023" height="603" viewBox="0 0 1023 603">
<path d="M412.6,502.5 H1017" stroke="#304253" stroke-width="1"/>
<path d="M412.6,545.5 H1017" stroke="#304253" stroke-width="1"/>
<path d="M412.6,588.5 H1017" stroke="#304253" stroke-width="1"/>
<path d="M443.5,502.5 V588.5" stroke="#304253" stroke-width="1"/>
<path d="M490.1,502.5 V588.5" stroke="#304253" stroke-width="1"/>
<path d="M536.6,502.5 V588.5" stroke="#304253" stroke-width="1"/>
<path d="M583.2,502.5 V588.5" stroke="#304253" stroke-width="1"/>
<path d="M629.7,502.5 V588.5" stroke="#304253" stroke-width="1"/>
<path d="M676.3,502.5 V588.5" stroke="#304253" stroke-width="1"/>
<path d="M722.9,502.5 V588.5" stroke="#304253" stroke-width="1"/>
<path d="M769.4,502.5 V588.5" stroke="#304253" stroke-width="1"/>
<path d="M816.0,502.5 V588.5" stroke="#304253" stroke-width="1"/>
<path d="M862.5,502.5 V588.5" stroke="#304253" stroke-width="1"/>
<path d="M909.1,502.5 V588.5" stroke="#304253" stroke-width="1"/>
<path d="M955.7,502.5 V588.5" stroke="#304253" stroke-width="1"/>
<path d="M1002.2,502.5 V588.5" stroke="#304253" stroke-width="1"/>
<path d="M1017.8,502 V588.5" stroke="#8f989d" stroke-width="1.4"/>
<path d="M897.2,565.3 H917.7 L924,523.7 H1017" fill="none" stroke="#7b7fd8" stroke-width="1.4"/>
<path d="M897.2,583.6 H917.7 L924,559 H1017" fill="none" stroke="#3cc8c0" stroke-width="1.2"/>
<path d="M897.2,586.8 L977.6,565.3 L979.5,563.5 L984,563.4 L1017,553.3" fill="none" stroke="#d48fd0" stroke-width="1.1"/>
</svg>
<div class="t" style="left:418.5px;width:50px;text-align:center;top:593.5px;font-size:6.8px;color:#c8d0d5">9 月 25</div>
<div class="t" style="left:465.1px;width:50px;text-align:center;top:593.5px;font-size:6.8px;color:#c8d0d5">10 月 2</div>
<div class="t" style="left:511.6px;width:50px;text-align:center;top:593.5px;font-size:6.8px;color:#c8d0d5">10 月 9</div>
<div class="t" style="left:558.2px;width:50px;text-align:center;top:593.5px;font-size:6.8px;color:#c8d0d5">10 月 16</div>
<div class="t" style="left:604.7px;width:50px;text-align:center;top:593.5px;font-size:6.8px;color:#c8d0d5">10 月 23</div>
<div class="t" style="left:651.3px;width:50px;text-align:center;top:593.5px;font-size:6.8px;color:#c8d0d5">10 月 30</div>
<div class="t" style="left:697.9px;width:50px;text-align:center;top:593.5px;font-size:6.8px;color:#c8d0d5">11 月 6</div>
<div class="t" style="left:744.4px;width:50px;text-align:center;top:593.5px;font-size:6.8px;color:#c8d0d5">11 月 13</div>
<div class="t" style="left:791.0px;width:50px;text-align:center;top:593.5px;font-size:6.8px;color:#c8d0d5">11 月 20</div>
<div class="t" style="left:837.5px;width:50px;text-align:center;top:593.5px;font-size:6.8px;color:#c8d0d5">11 月 27</div>
<div class="t" style="left:884.1px;width:50px;text-align:center;top:593.5px;font-size:6.8px;color:#c8d0d5">12 月 4</div>
<div class="t" style="left:930.7px;width:50px;text-align:center;top:593.5px;font-size:6.8px;color:#c8d0d5">12 月 11</div>
<div class="t" style="left:977.2px;width:50px;text-align:center;top:593.5px;font-size:6.8px;color:#c8d0d5">12 月 18</div>
<div class="t" style="left:994px;width:22px;text-align:right;top:539.3px;font-size:6.8px;color:#c8d0d5">200</div>
<div class="t" style="left:994px;width:22px;text-align:right;top:580.8px;font-size:6.8px;color:#c8d0d5">0</div>
<div class="a" style="left:1020px;top:508px;width:1.5px;height:1px;background:#d04040"></div>
<div class="a" style="left:1022px;top:0;width:1px;height:603px;background:#b8c0c4"></div>
</div></body></html>
